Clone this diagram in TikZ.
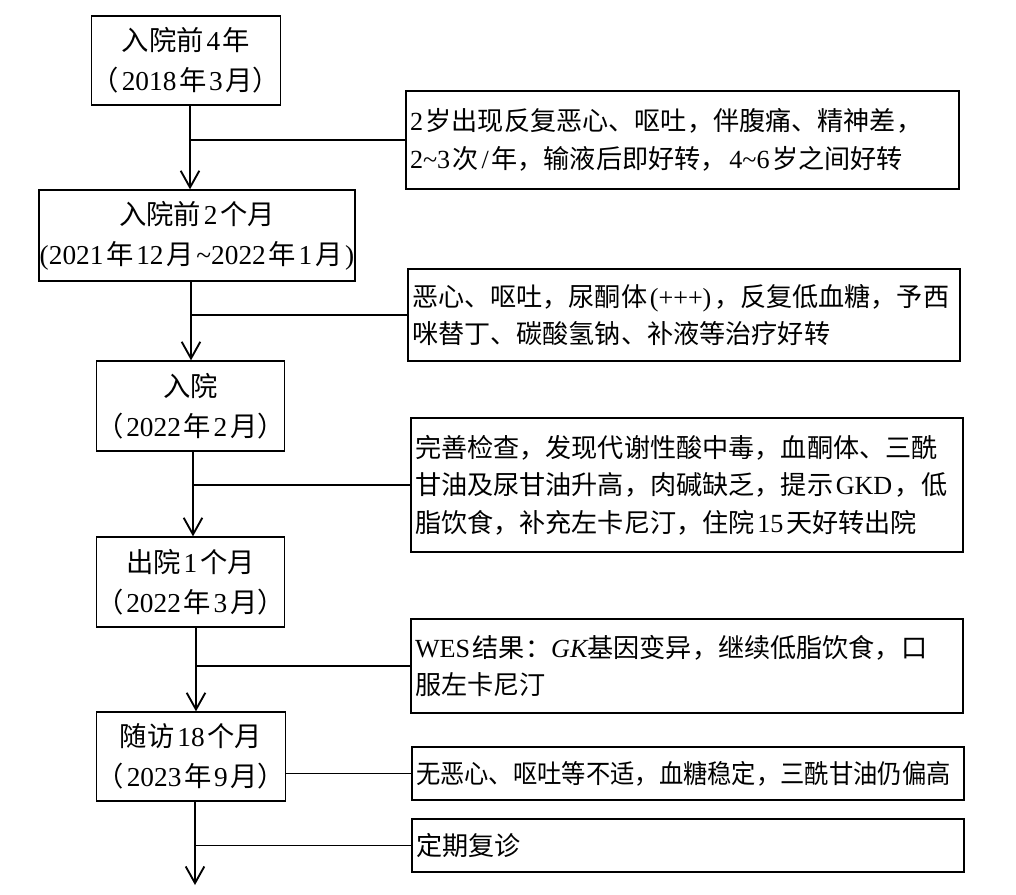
\documentclass[tikz,border=0pt]{standalone}
\usepackage{fontspec}
\setmainfont{Liberation Serif}
\newfontfamily\cjkfont{Noto Sans CJK SC}
\usetikzlibrary{arrows.meta}
\XeTeXinterchartokenstate=1
\newXeTeXintercharclass\CJKcls
\newcount\cjkcnt
\cjkcnt="4E00
\loop\XeTeXcharclass\cjkcnt=\CJKcls\advance\cjkcnt by 1\relax\ifnum\cjkcnt<"A000\repeat
\cjkcnt="3000
\loop\XeTeXcharclass\cjkcnt=\CJKcls\advance\cjkcnt by 1\relax\ifnum\cjkcnt<"3040\repeat
\cjkcnt="FF00
\loop\XeTeXcharclass\cjkcnt=\CJKcls\advance\cjkcnt by 1\relax\ifnum\cjkcnt<"FFF0\repeat
\XeTeXinterchartoks 0 \CJKcls={\nobreak\hskip0.1em\relax\cjkfont}
\XeTeXinterchartoks \CJKcls 0={\nobreak\hskip0.1em\relax\rmfamily}
\XeTeXinterchartoks 4095 \CJKcls={\cjkfont}
\XeTeXinterchartoks 4095 0={\rmfamily}
\tikzset{
  lbox/.style 2 args={draw, line width=1pt, minimum width=#1*0.75pt, minimum height=#2*0.75pt,
    inner sep=0pt, align=center, font=\fontsize{20.5}{30}\selectfont},
  rbox/.style 2 args={draw, line width=1pt, minimum width=#1*0.75pt, minimum height=#2*0.75pt,
    inner xsep=3pt, inner ysep=0pt, text width=#1*0.75pt-6pt, align=left,
    font=\fontsize{19.6}{28}\selectfont},
  conn/.style={line width=1.4pt},
  arr/.style={conn, -{Straight Barb[length=12.5pt,width=14pt,line width=1.4pt]}}
}
\begin{document}
\begin{tikzpicture}[x=0.75pt,y=-0.75pt]
\useasboundingbox (0,0) rectangle (1016,894);
% left column
\node[lbox={186}{89}] (L1) at (186,60.5) {入院前4年\\（2018年3月）};
\node[lbox={316}{91}] (L2) at (197,235.5) {入院前2个月\\(2021年12月\textasciitilde2022年1月)};
\node[lbox={183}{90}] (L3) at (190.5,406) {入院\\（2022年2月）};
\node[lbox={183}{90}] (L4) at (190.5,582) {出院1个月\\（2022年3月）};
\node[lbox={182}{89}] (L5) at (191,756.5) {随访18个月\\（2023年9月）};
% right column
\node[rbox={553}{98}] (R1) at (682.5,140) {2岁出现反复恶心、呕吐，伴腹痛、精神差，\\2\textasciitilde3次/年，输液后即好转，4\textasciitilde6岁之间好转};
\node[rbox={552}{92}] (R2) at (684,315) {恶心、呕吐，尿酮体(+++)，反复低血糖，予西\\咪替丁、碳酸氢钠、补液等治疗好转};
\node[rbox={552}{134}] (R3) at (687,485) {完善检查，发现代谢性酸中毒，血酮体、三酰\\甘油及尿甘油升高，肉碱缺乏，提示GKD，低\\脂饮食，补充左卡尼汀，住院15天好转出院};
\node[rbox={552}{94}] (R4) at (687,666) {WES结果：{\rmfamily\itshape GK}基因变异，继续低脂饮食，口\\服左卡尼汀};
\node[rbox={552}{53}] (R5) at (688,773.5) {\scalebox{0.93}[1]{无恶心、呕吐等不适，血糖稳定，三酰甘油仍偏高}};
\node[rbox={552}{53}] (R6) at (688,845.5) {定期复诊};
% spine coordinates
\coordinate (s1) at (190,0);
\coordinate (s2) at (191,0);
\coordinate (s3) at (193,0);
\coordinate (s4) at (196,0);
\coordinate (s5) at (195,0);
\coordinate (end) at (195,885);
% connectors
\draw[arr] (L1.south -| s1) -- (L2.north -| s1);
\draw[conn] (R1.west) -- (R1.west -| s1);
\draw[arr] (L2.south -| s2) -- (L3.north -| s2);
\draw[conn] (R2.west) -- (R2.west -| s2);
\draw[arr] (L3.south -| s3) -- (L4.north -| s3);
\draw[conn] (R3.west) -- (R3.west -| s3);
\draw[arr] (L4.south -| s4) -- (L5.north -| s4);
\draw[conn] (R4.west) -- (R4.west -| s4);
\draw[conn] (L5.east |- R5.west) -- (R5.west);
\draw[arr] (L5.south -| s5) -- (end);
\draw[conn] (R6.west) -- (R6.west -| s5);
\end{tikzpicture}
\end{document}
